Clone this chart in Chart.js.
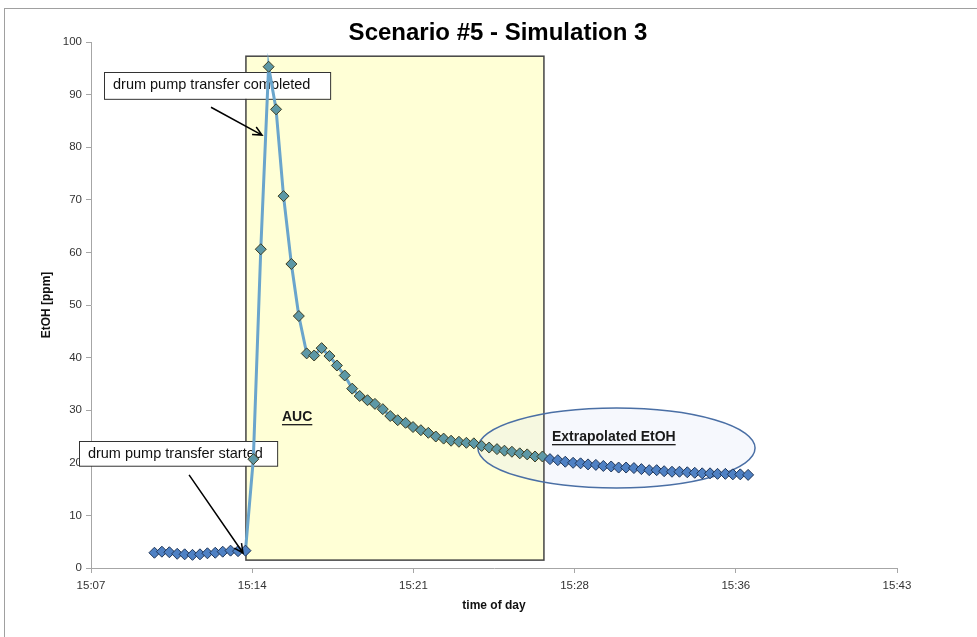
<!DOCTYPE html>
<html>
<head>
<meta charset="utf-8">
<script src="https://cdn.jsdelivr.net/npm/chart.js@4.4.1/dist/chart.umd.min.js"></script>
<style>
  body { margin: 0; background: #fff; }
  #wrap { width: 977px; height: 637px; }
</style>
</head>
<body>
<div id="wrap"><canvas id="etohChart" width="977" height="637"></canvas></div>
<script>
// sample times (time of day) and EtOH readings [ppm]
const times = [
  '15:10:02', '15:10:22', '15:10:42', '15:11:03', '15:11:23', '15:11:44', '15:12:04', '15:12:24',
  '15:12:45', '15:13:05', '15:13:26', '15:13:46', '15:14:06', '15:14:27', '15:14:47', '15:15:08',
  '15:15:28', '15:15:48', '15:16:09', '15:16:29', '15:16:50', '15:17:10', '15:17:30', '15:17:51',
  '15:18:11', '15:18:32', '15:18:52', '15:19:12', '15:19:33', '15:19:53', '15:20:14', '15:20:34',
  '15:20:54', '15:21:15', '15:21:35', '15:21:56', '15:22:16', '15:22:36', '15:22:57', '15:23:17',
  '15:23:38', '15:23:58', '15:24:18', '15:24:39', '15:24:59', '15:25:20', '15:25:40', '15:26:00',
  '15:26:21', '15:26:41', '15:27:02', '15:27:22', '15:27:42', '15:28:03', '15:28:23', '15:28:44',
  '15:29:04', '15:29:24', '15:29:45', '15:30:05', '15:30:26', '15:30:46', '15:31:06', '15:31:27',
  '15:31:47', '15:32:08', '15:32:28', '15:32:48', '15:33:09', '15:33:29', '15:33:50', '15:34:10',
  '15:34:30', '15:34:51', '15:35:11', '15:35:32', '15:35:52', '15:36:12', '15:36:33'
];
const etoh = [
  2.9, 3.1, 3.0, 2.7, 2.6, 2.5, 2.6, 2.8, 2.9, 3.1, 3.3, 3.2, 3.3,
  20.7, 60.6, 95.3, 87.2, 70.7, 57.8, 47.9, 40.8, 40.4, 41.8, 40.3, 38.5, 36.6, 34.1, 32.7,
  31.9, 31.2, 30.2, 28.9, 28.1, 27.6, 26.8, 26.2, 25.7, 25.0, 24.6, 24.2, 24.0, 23.8, 23.7,
  23.2, 22.9, 22.6, 22.3, 22.1, 21.8, 21.6, 21.2, 21.2,
  20.7, 20.5, 20.2, 20.0, 19.9, 19.7, 19.6, 19.4, 19.3, 19.1, 19.1, 19.0, 18.8, 18.6, 18.6,
  18.4, 18.3, 18.3, 18.2, 18.1, 18.0, 18.0, 17.9, 17.9, 17.8, 17.8, 17.7
];
const xTickLabels = ['15:07', '15:14', '15:21', '15:28', '15:36', '15:43'];

// minutes after 15:00
function toMinutes(t) {
  const [h, m, s] = t.split(':').map(Number);
  return (h - 15) * 60 + m + s / 60;
}

// AUC window and extrapolated region, in axis units
const auc = { x0: 14.12, x1: 27.43, y0: 1.5, y1: 97.3 };
const extra = { cx: 30.67, cy: 22.8, rx: 6.19, ry: 7.6 };

const inBox = v => v > auc.x0 && v < auc.x1;

const points = times.map((t, i) => ({ x: toMinutes(t), y: etoh[i] }));

function arrow(ctx, x0, y0, x1, y1) {
  const a = Math.atan2(y1 - y0, x1 - x0);
  ctx.beginPath();
  ctx.moveTo(x0, y0);
  ctx.lineTo(x1, y1);
  ctx.moveTo(x1 - 10 * Math.cos(a - 0.45), y1 - 10 * Math.sin(a - 0.45));
  ctx.lineTo(x1, y1);
  ctx.lineTo(x1 - 10 * Math.cos(a + 0.45), y1 - 10 * Math.sin(a + 0.45));
  ctx.stroke();
}

function noteBox(ctx, x, y, text, box) {
  const l = x.getPixelForValue(box.x0), r = x.getPixelForValue(box.x1);
  const t = y.getPixelForValue(box.y1), b = y.getPixelForValue(box.y0);
  ctx.fillStyle = '#fff';
  ctx.fillRect(l, t, r - l, b - t);
  ctx.strokeStyle = '#333';
  ctx.lineWidth = 1;
  ctx.strokeRect(Math.round(l) + 0.5, Math.round(t) + 0.5, r - l, b - t);
  ctx.fillStyle = '#111';
  ctx.font = '14.5px "Liberation Sans", Arial, sans-serif';
  ctx.textBaseline = 'middle';
  ctx.textAlign = 'left';
  ctx.fillText(text, l + 9, (t + b) / 2);
}

function underlined(ctx, text, px, py) {
  ctx.font = 'bold 14px "Liberation Sans", Arial, sans-serif';
  ctx.fillStyle = '#1a1a1a';
  ctx.textBaseline = 'middle';
  ctx.textAlign = 'left';
  ctx.fillText(text, px, py);
  const w = ctx.measureText(text).width;
  ctx.fillRect(px, py + 7, w, 1.3);
}

const decorations = {
  id: 'decorations',
  beforeDatasetsDraw(chart) {
    const { ctx, scales: { x, y } } = chart;
    ctx.save();
    const l = x.getPixelForValue(auc.x0), r = x.getPixelForValue(auc.x1);
    const t = y.getPixelForValue(auc.y1), b = y.getPixelForValue(auc.y0);
    ctx.fillStyle = '#ffffd6';
    ctx.fillRect(l, t, r - l, b - t);

    const cx = x.getPixelForValue(extra.cx), cy = y.getPixelForValue(extra.cy);
    const rx = x.getPixelForValue(extra.cx + extra.rx) - cx;
    const ry = cy - y.getPixelForValue(extra.cy + extra.ry);
    ctx.beginPath();
    ctx.ellipse(cx, cy, rx, ry, 0, 0, Math.PI * 2);
    ctx.fillStyle = 'rgba(225,232,248,0.3)';
    ctx.fill();

    ctx.strokeStyle = '#444';
    ctx.lineWidth = 1.5;
    ctx.strokeRect(l, t, r - l, b - t);

    ctx.strokeStyle = '#4a6fa5';
    ctx.lineWidth = 1.5;
    ctx.stroke();

    noteBox(ctx, x, y, 'drum pump transfer completed', { x0: 7.78, x1: 17.88, y0: 89.2, y1: 94.3 });
    noteBox(ctx, x, y, 'drum pump transfer started', { x0: 6.66, x1: 15.51, y0: 19.4, y1: 24.1 });
    ctx.restore();
  },
  afterDatasetsDraw(chart) {
    const { ctx, scales: { x, y } } = chart;
    ctx.save();
    ctx.strokeStyle = '#000';
    ctx.lineWidth = 1.5;
    arrow(ctx, x.getPixelForValue(12.56), y.getPixelForValue(87.6), x.getPixelForValue(14.84), y.getPixelForValue(82.3));
    arrow(ctx, x.getPixelForValue(11.58), y.getPixelForValue(17.7), x.getPixelForValue(13.99), y.getPixelForValue(2.85));
    underlined(ctx, 'AUC', x.getPixelForValue(15.73), y.getPixelForValue(28.7));
    underlined(ctx, 'Extrapolated EtOH', x.getPixelForValue(27.79), y.getPixelForValue(24.9));
    ctx.restore();
  },
  afterDraw(chart) {
    const { ctx, chartArea } = chart;
    ctx.save();
    ctx.fillStyle = '#000';
    ctx.font = 'bold 24px "Liberation Sans", Arial, sans-serif';
    ctx.textAlign = 'center';
    ctx.textBaseline = 'middle';
    ctx.fillText('Scenario #5 - Simulation 3', (chartArea.left + chartArea.right) / 2 + 4, 33);
    ctx.strokeStyle = '#a0a0a0';
    ctx.lineWidth = 1;
    ctx.strokeRect(4.5, 8.5, 1000, 1000);
    ctx.restore();
  }
};

const tickFont = { family: '"Liberation Sans", Arial, sans-serif', size: 11.5 };
const titleFont = { family: '"Liberation Sans", Arial, sans-serif', size: 12, weight: 'bold' };

const ctx = document.getElementById('etohChart').getContext('2d');
new Chart(ctx, {
  type: 'line',
  data: {
    datasets: [{
      label: 'EtOH',
      data: points,
      borderWidth: 3,
      borderColor: '#6aa5cc',
      segment: {
        borderColor: c => inBox((c.p0.parsed.x + c.p1.parsed.x) / 2) ? '#6aa5cc' : '#5b8cc8'
      },
      pointStyle: 'rectRot',
      pointRadius: 5.5,
      pointBorderWidth: 1,
      pointBackgroundColor: c => inBox(c.raw.x) ? '#5d98a6' : '#4f81c4',
      pointBorderColor: c => inBox(c.raw.x) ? '#3d3d22' : '#1f3557',
      tension: 0,
      fill: false
    }]
  },
  options: {
    responsive: false,
    animation: false,
    layout: { padding: { left: 5, right: 80, top: 42, bottom: 0 } },
    plugins: {
      legend: { display: false },
      title: { display: false },
      tooltip: { enabled: false }
    },
    scales: {
      x: {
        type: 'linear',
        min: 7.2,
        max: 43.2,
        ticks: {
          count: 6,
          color: '#333',
          font: tickFont,
          padding: 6,
          maxRotation: 0,
          callback: (v, i) => xTickLabels[i]
        },
        grid: { drawOnChartArea: false, drawTicks: true, tickLength: 5, color: '#a6a6a6' },
        border: { color: '#a6a6a6' },
        title: { display: true, text: 'time of day', color: '#111', font: titleFont, padding: { bottom: 24 } },
        afterFit: s => { s.height = 69; }
      },
      y: {
        min: 0,
        max: 100,
        ticks: { stepSize: 10, color: '#333', font: tickFont, padding: 4 },
        grid: { drawOnChartArea: false, drawTicks: true, tickLength: 5, color: '#a6a6a6' },
        border: { color: '#a6a6a6' },
        title: { display: true, text: 'EtOH [ppm]', color: '#111', font: titleFont, padding: { top: 34 } },
        afterFit: s => { s.width = 86; }
      }
    }
  },
  plugins: [decorations]
});
</script>
</body>
</html>
